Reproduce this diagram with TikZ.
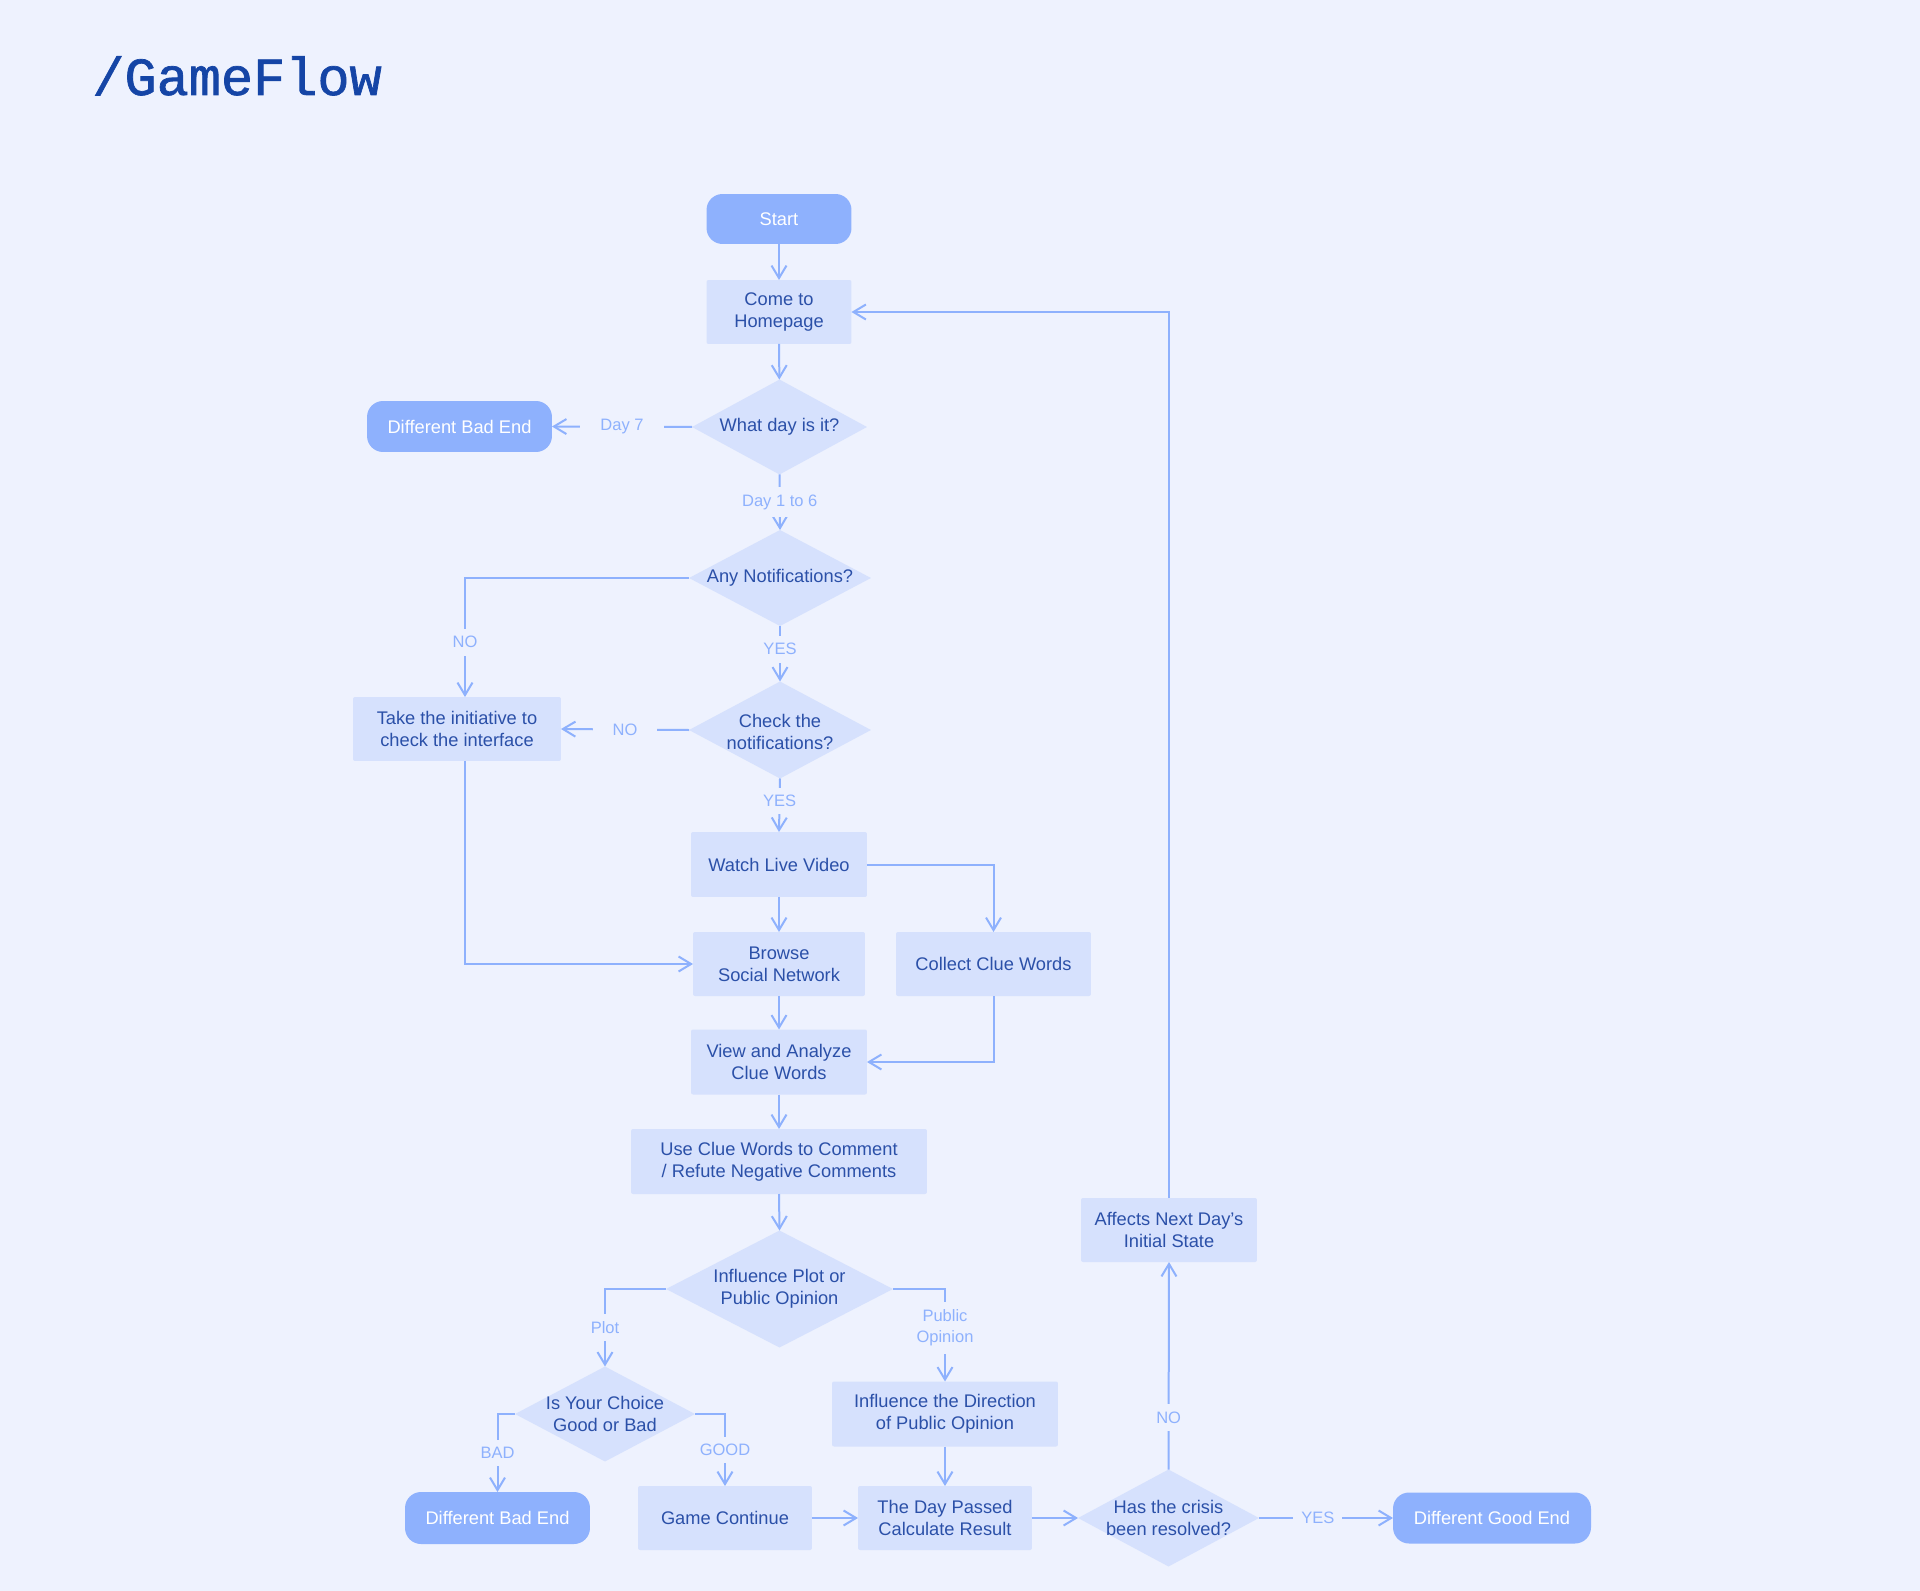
\documentclass[tikz,border=0pt]{standalone}
\usepackage{fontspec}
\setmainfont{Liberation Sans}
\newfontfamily\titlefont[FakeBold=1.3]{Liberation Mono}
\usetikzlibrary{shapes.geometric,arrows.meta}

\definecolor{pagebg}{HTML}{EEF2FE}
\definecolor{boxfill}{HTML}{D6E1FD}
\definecolor{endfill}{HTML}{8EB1FD}
\definecolor{flowline}{HTML}{8EB1FD}
\definecolor{boxtext}{HTML}{2B50A8}
\definecolor{titleblue}{HTML}{1545A6}

\newcommand{\boxfont}{\fontsize{10.4}{12.3}\selectfont}
\newcommand{\answerfont}{\fontsize{9.4}{12.3}\selectfont}

\tikzset{
	terminal/.style={fill=endfill, rounded corners=0.32cm, minimum width=3.7cm, minimum height=1.02cm, inner sep=0pt, outer sep=0pt, text=white, font=\boxfont},
	process/.style={fill=boxfill, rounded corners=0.04cm, minimum height=1.28cm, inner sep=0pt, outer sep=0pt, text=boxtext, align=center, font=\boxfont},
	decision/.style={diamond, fill=boxfill, inner sep=0pt, outer sep=0pt},
	dtext/.style={text=boxtext, align=center, font=\boxfont},
	flow/.style={draw=flowline, line width=0.04cm, -{Straight Barb[length=0.25cm, width=0.3cm]}},
	answer/.style={fill=pagebg, text=flowline, font=\answerfont, align=center, inner xsep=0.4cm, inner ysep=0.15cm},
}

\begin{document}
\begin{tikzpicture}[x=0.02cm, y=-0.02cm]
			\fill[pagebg] (0, 0) rectangle (1920, 1591);
			\draw (92, 95) 		node[anchor=base west, inner sep=0pt, text=titleblue, font=\titlefont\fontsize{30.5}{32}\selectfont] (title) {/GameFlow};

			\draw (779, 219) 	node[terminal, minimum width=2.9cm, minimum height=1cm] 	(start) 	{Start};
			\draw (779, 312) 	node[process, minimum width=2.9cm] 	(home) 		{Come to\\Homepage};
			\draw (779.5, 427) 	node[decision, minimum width=3.5cm, minimum height=1.9cm, label={[dtext]center:What day is it?}] 	(whatday) 	{};
			\draw (459.5, 426.5) 	node[terminal] 	(badend1) 	{Different Bad End};
			\draw (780, 578) 	node[decision, minimum width=3.64cm, minimum height=1.92cm, label={[dtext]center:Any Notifications?}] 	(anynotif) 	{};
			\draw (780, 730) 	node[decision, minimum width=3.64cm, minimum height=1.94cm, label={[dtext, yshift=-0.04cm]center:{Check the\\notifications?}}] 	(checknotif) 	{};
			\draw (457, 729) 	node[process, minimum width=4.16cm] 	(initiative) 	{Take the initiative to\\check the interface};
			\draw (779, 864.5) 	node[process, minimum width=3.52cm, minimum height=1.3cm] 	(watch) 	{Watch Live Video};
			\draw (779, 964) 	node[process, minimum width=3.44cm] 	(browse) 	{Browse\\Social Network};
			\draw (993.5, 964) 	node[process, minimum width=3.9cm] 	(collect) 	{Collect Clue Words};
			\draw (779, 1062) 	node[process, minimum width=3.52cm, minimum height=1.3cm] 	(analyze) 	{View and Analyze\\Clue Words};
			\draw (779, 1161.5) 	node[process, minimum width=5.92cm, minimum height=1.3cm] 	(comment) 	{Use Clue Words to Comment\\/ Refute Negative Comments};
			\draw (779.5, 1289) 	node[decision, minimum width=4.54cm, minimum height=2.34cm, label={[dtext]center:{Influence Plot or\\Public Opinion}}] 	(influence) 	{};
			\draw (605, 1414) 	node[decision, minimum width=3.6cm, minimum height=1.9cm, label={[dtext]center:{Is Your Choice\\Good or Bad}}] 	(choice) 	{};
			\draw (945, 1414) 	node[process, minimum width=4.52cm, minimum height=1.3cm] 	(direction) 	{Influence the Direction\\of Public Opinion};
			\draw (497.5, 1518) 	node[terminal, minimum height=1.04cm] 	(badend2) 	{Different Bad End};
			\draw (725, 1518) 	node[process, minimum width=3.48cm] 	(gamecont) 	{Game Continue};
			\draw (945, 1518) 	node[process, minimum width=3.48cm] 	(daypassed) 	{The Day Passed\\Calculate Result};
			\draw (1168.5, 1518) 	node[decision, minimum width=3.62cm, minimum height=1.94cm, label={[dtext]center:{Has the crisis\\been resolved?}}] 	(crisis) 	{};
			\draw (1492, 1518) 	node[terminal, minimum width=3.96cm] 	(goodend) 	{Different Good End};
			\draw (1169, 1230) 	node[process, minimum width=3.52cm] 	(affects) 	{Affects Next Day's\\Initial State};

			\draw[flow] (start) -- (home);
			\draw[flow] (home) -- (whatday);
			\draw[flow] (whatday.west) -- node[answer] {Day 7} (badend1.east);
			\draw[flow] (whatday.south) -- node[answer] {Day 1 to 6} (anynotif.north);
			\draw[flow] (anynotif.west) -| node[answer, pos=0.77] {NO} ([xshift=0.16cm]initiative.north);
			\draw[flow] (anynotif.south) -- node[answer, pos=0.42] {YES} (checknotif.north);
			\draw[flow] (checknotif.west) -- node[answer] {NO} (initiative.east);
			\draw[flow] (checknotif.south) -- node[answer, pos=0.42] {YES} (watch.north);
			\draw[flow] ([xshift=0.16cm]initiative.south) |- (browse.west);
			\draw[flow] (watch) -- (browse);
			\draw[flow] (watch.east) -| (collect.north);
			\draw[flow] (browse) -- (analyze);
			\draw[flow] (collect.south) |- (analyze.east);
			\draw[flow] (analyze) -- (comment);
			\draw[flow] (comment.south) -- (influence.north);
			\draw[flow] (influence.west) -| node[answer, pos=0.75] {Plot} (choice.north);
			\draw[flow] (influence.east) -| node[answer, pos=0.71] {Public\\Opinion} (direction.north);
			\draw[flow] (choice.west) -| node[answer, pos=0.75] {BAD} (badend2.north);
			\draw[flow] (choice.east) -| node[answer, pos=0.75] {GOOD} (gamecont.north);
			\draw[flow] (direction) -- (daypassed);
			\draw[flow] (gamecont) -- (daypassed);
			\draw[flow] (daypassed.east) -- (crisis.west);
			\draw[flow] (crisis.east) -- node[answer, pos=0.44, inner xsep=0.16cm] {YES} (goodend.west);
			\draw[flow] (crisis.north) -- node[answer, pos=0.25] {NO} (affects.south);
			\draw[flow] (affects.north) |- (home.east);
		\end{tikzpicture}
\end{document}
